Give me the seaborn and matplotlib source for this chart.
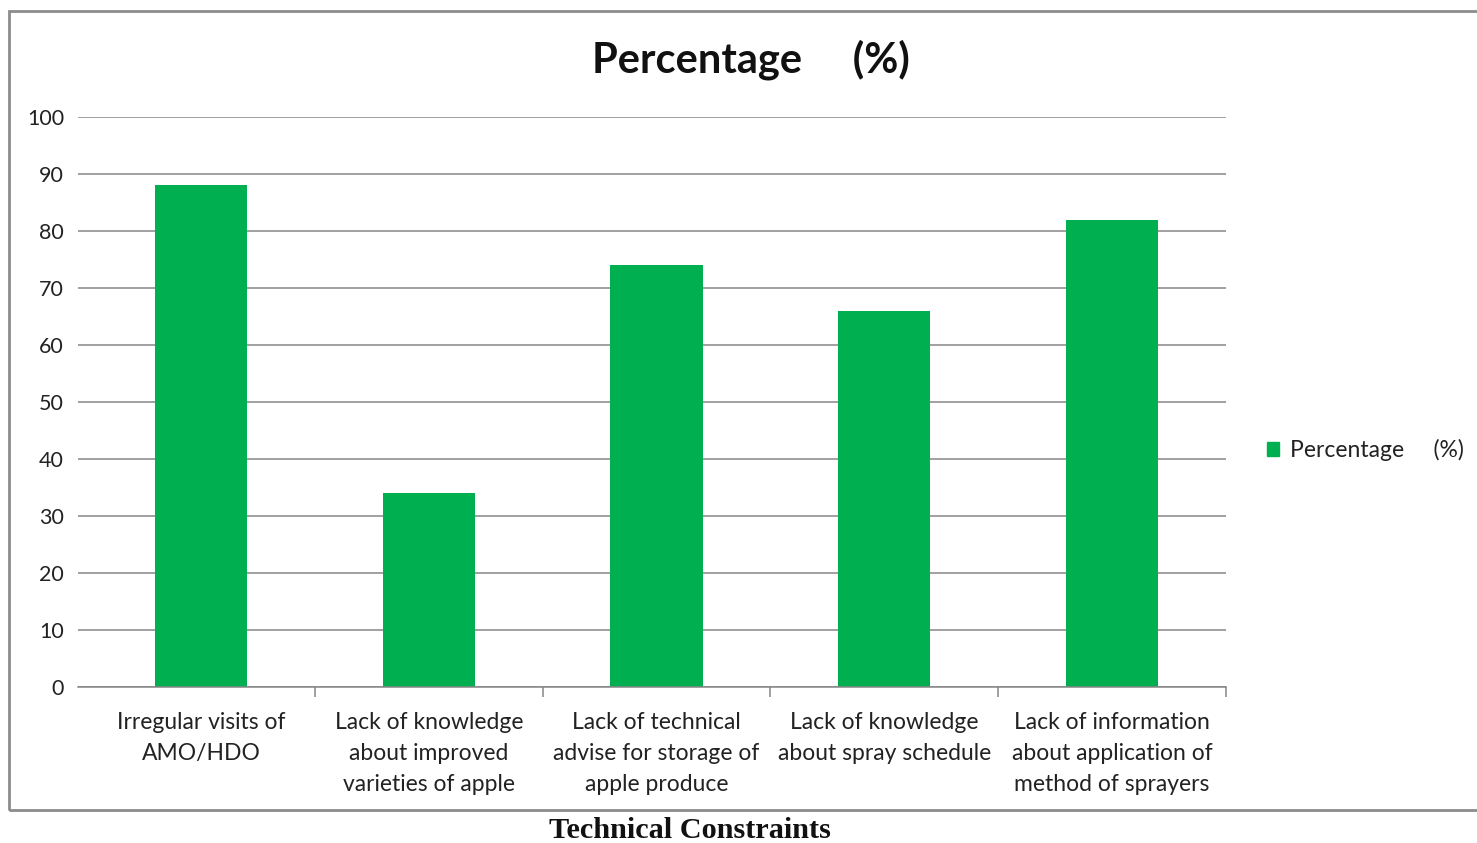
import matplotlib
matplotlib.use("Agg")
import matplotlib.pyplot as plt
import matplotlib.patches as mpatches
import seaborn as sns
import pandas as pd

categories = [
    "Irregular visits of\nAMO/HDO",
    "Lack of knowledge\nabout improved\nvarieties of apple",
    "Lack of technical\nadvise for storage of\napple produce",
    "Lack of knowledge\nabout spray schedule",
    "Lack of information\nabout application of\nmethod of sprayers",
]
percentages = [88, 34, 74, 66, 82]
series_name = "Percentage     (%)"
y_ticks = [0, 10, 20, 30, 40, 50, 60, 70, 80, 90, 100]

df = pd.DataFrame({"constraint": categories, "value": percentages, "series": series_name})

sns.set_theme(style="white")
plt.rcParams["font.family"] = ["Lato", "DejaVu Sans"]

W, H = 1477, 843
fig = plt.figure(figsize=(W / 100, H / 100), dpi=100)
ax = fig.add_axes([78 / W, 1 - 687 / H, (1226 - 78) / W, (687 - 117) / H])

green = "#00B050"
sns.barplot(data=df, x="constraint", y="value", hue="series", palette=[green],
            width=0.405, ax=ax, saturation=1, legend=False, linewidth=0)

ax.set_xlim(-0.54, 4.5)
ax.set_ylim(0, 100)
ax.set_yticks(y_ticks)
ax.set_yticklabels([str(t) for t in y_ticks], fontsize=15.5, color="#222222")
ax.yaxis.grid(True, color="#868686", linewidth=1.1)
ax.set_axisbelow(True)
for s in ["top", "right", "left"]:
    ax.spines[s].set_visible(False)
ax.spines["bottom"].set_color("#868686")
ax.spines["bottom"].set_linewidth(1.1)
ax.tick_params(axis="y", length=0, pad=10)

# category labels centered, tick marks between categories
ax.set_xticks(range(len(categories)))
ax.set_xticklabels(categories, fontsize=16.5, color="#222222", linespacing=1.58)
ax.tick_params(axis="x", which="major", length=0, pad=18, bottom=True)
ax.set_xticks([0.5, 1.5, 2.5, 3.5, 4.5], minor=True)
ax.tick_params(axis="x", which="minor", length=7, width=1.1, color="#868686",
               direction="out", bottom=True)
ax.set_xlabel("")
ax.set_ylabel("")

fig.text(751 / W, 1 - 60 / H, "Percentage     (%)", ha="center", va="center",
         fontsize=30, fontweight="bold", color="#111111")

# legend placed right of the plot
handle = mpatches.Patch(color=green, label=series_name)
fig.legend(handles=[handle], loc="center left", bbox_to_anchor=(1246 / W, 1 - 450 / H),
           frameon=False, fontsize=16.5, handlelength=0.55, handleheight=0.55,
           handletextpad=0.45, labelcolor="#222222")

# chart frame
frame = mpatches.Rectangle((9 / W, 1 - 810 / H), 1.2, (810 - 11) / H, transform=fig.transFigure,
                           fill=False, edgecolor="#8c8c8c", linewidth=2, clip_on=False)
fig.patches.append(frame)

fig.text(690 / W, 1 - 830 / H, "Technical Constraints", ha="center", va="center",
         fontsize=21.8, fontweight="bold", family=["Liberation Serif", "DejaVu Serif"], color="#111111")

fig.savefig("out.png", dpi=100, facecolor="white")
